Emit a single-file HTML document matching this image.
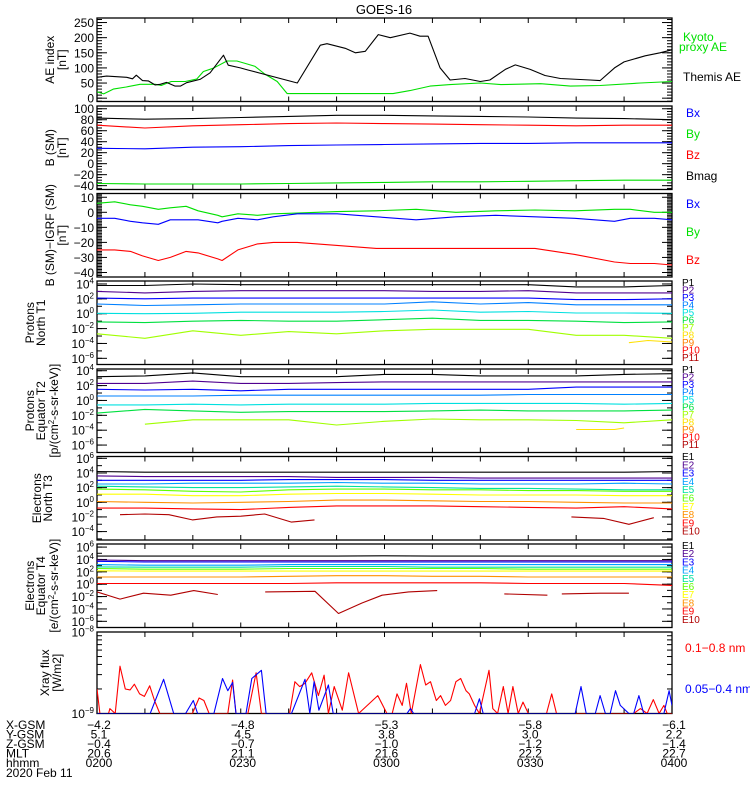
<!DOCTYPE html>
<html><head><meta charset="utf-8"><title>GOES-16</title>
<style>
html,body{margin:0;padding:0;background:#fff;}
svg{display:block;font-family:"Liberation Sans",sans-serif;}
text{font-size:12px;fill:#000;}
</style></head>
<body>
<svg id="chart" width="750" height="800" viewBox="0 0 750 800" xmlns="http://www.w3.org/2000/svg">
<rect x="0" y="0" width="750" height="800" fill="#fff"/>
<text x="384" y="14" text-anchor="middle" style="font-size:13px">GOES-16</text>
<g id="layer"></g>
</svg>
<script>
// ---------- DATA ----------
const T10=[0,10,20,30,40,50,60,70,80,90,100,110,120];
// Panel 1: AE index
const aeThemisT=[0,2,6.2,7.4,8.2,9.5,10.7,12.1,13.2,14.5,16.3,17.4,18.7,21.5,23.6,26.4,27.4,29.9,31.5,41.8,46.6,48,51.8,53.9,56,58.7,61.2,65.3,67.4,69.1,71.6,73.7,76.8,80,82,85.2,87.3,90.4,93.5,96.7,102.9,105,108,110,114.4,117.5,120];
const aeThemisV=[69,73,69,64,76,58,57,44,46,52,40,40,51,62,84,142,109,100,93,50,175,180,165,150,155,210,200,215,205,205,100,60,65,55,60,95,110,95,75,65,60,58,100,120,140,150,160];
const aeKyotoT=[0,1.4,3.4,6.1,9,12.2,13.4,15.5,18.4,20.8,22.2,24.3,27.1,29.2,30.9,33,35,37.6,39.7,61.8,65.3,69.5,73.7,80,84.3,92.6,98.8,105,113.4,120];
const aeKyotoV=[21,14,30,37,46,46,42,55,55,63,88,99,123,123,115,105,80,55,15,15,25,40,45,50,45,48,40,42,50,55];
// Panel 2: B (SM)
const bmagSM=[83,81,82,84,86,88,88,87,86,85,83,82,80];
const bzSM=[70,65,69,71,73,74,73,72,71,70,69,70,70];
const bxSM=[28,27,30,31,33,34,35,36,37,37,38,38,38];
const bySM=[-36,-37,-37,-37,-36,-35,-34,-33,-33,-32,-31,-30,-30];
// Panel 3: B - IGRF
const dT=[0,3.7,7,9.5,12.8,15.3,18.6,21.1,25.2,26.1,29.4,33.5,36.8,41.8,50.1,58.3,66.6,74.9,83.2,91.4,99.7,108,111.3,116.3,120];
const dBy=[6,7,5,4,2,3,4,1,-2,-3,-1,-2,-1,-0.5,0.5,1,2,0,1,1.5,1,2,2,0,0];
const dBx=[-4,-4,-6,-7,-8,-5,-5,-5,-7,-6,-4,-5,-3,-1,-1,-3,-5,-3,-2,-3,-4,-6,-4,-4,-5];
const dBz=[-25,-25,-26,-29,-32,-30,-26,-27,-31,-32,-25,-21,-20,-20,-22,-24,-24,-24,-24,-24,-28,-33,-34,-34,-35];
// Panel 4: Protons North T1 (log10 flux)
const p4P1=[3.8,3.8,4.0,3.9,3.9,3.9,3.9,3.9,3.9,3.9,3.6,3.6,3.8];
const p4P2=[3.0,2.8,3.0,3.1,3.1,3.1,3.1,3.0,3.0,3.1,2.8,2.8,2.8];
const p4P3=[2.1,2.0,2.1,2.1,2.1,2.1,2.1,2.1,2.1,2.1,1.9,1.9,2.0];
const p4P4=[1.3,1.1,1.2,1.3,1.3,1.3,1.3,1.6,1.3,1.5,1.2,1.2,1.2];
const p4P5=[0.05,0.0,0.05,0.2,0.2,0.2,0.3,0.5,0.2,0.3,0.1,0.1,0.05];
const p4P6=[-1.1,-1.2,-1.0,-0.9,-1.0,-1.0,-0.8,-0.6,-0.9,-0.9,-1.0,-1.2,-1.1];
const p4P7=[-2.7,-3.3,-2.3,-2.9,-2.4,-2.7,-2.3,-2.1,-2.1,-2.1,-2.9,-2.9,-3.3];
const p4P8T=[111,115,120];
const p4P8=[-3.9,-3.6,-3.8];
// Panel 5: Protons Equator T2
const p5P1=[3.2,3.3,3.7,3.2,3.2,3.2,3.5,3.5,3.3,3.3,3.3,3.5,3.6];
const p5P2=[2.3,2.3,2.6,2.3,2.3,2.4,2.5,2.5,2.5,2.5,2.5,2.5,2.5];
const p5P3=[1.5,1.4,1.5,1.3,1.5,1.5,1.5,1.5,1.5,1.5,1.8,1.8,1.8];
const p5P4=[0.6,0.6,0.6,0.7,0.7,0.7,0.7,0.7,0.7,0.8,0.8,0.8,0.8];
const p5P5=[-0.6,-0.6,-0.5,-0.6,-0.5,-0.5,-0.5,-0.4,-0.4,-0.4,-0.4,-0.5,-0.4];
const p5P6=[-1.7,-1.2,-1.4,-1.6,-1.5,-1.5,-1.5,-1.4,-1.3,-1.4,-1.4,-1.4,-1.3];
const p5P7=[null,-3.2,-2.6,-2.6,-2.6,-3.3,-2.8,-2.5,-2.6,-2.6,-2.7,-3.0,-2.6];
const p5P8T=[100,108,110];
const p5P8=[-3.9,-3.9,-3.7];
// Panel 6: Electrons North T3
const e6E1=[4.2,4.1,4.1,4.1,4.1,4.1,4.1,4.1,4.1,4.1,4.1,4.1,4.2];
const e6E2=[3.6,3.5,3.5,3.5,3.5,3.4,3.4,3.4,3.3,3.3,3.3,3.3,3.3];
const e6E3=[3.0,3.0,3.0,3.0,3.1,3.1,3.1,3.0,3.0,3.0,3.0,3.0,3.0];
const e6E4=[2.5,2.5,2.6,2.6,2.6,2.7,2.6,2.6,2.5,2.5,2.5,2.6,2.5];
const e6E5=[2.2,2.1,2.0,2.0,2.1,2.2,2.1,2.0,1.9,1.9,1.8,1.7,1.7];
const e6E6=[1.8,1.7,1.5,1.4,1.7,1.8,1.8,1.7,1.7,1.6,1.6,1.5,1.5];
const e6E7=[1.1,1.1,0.9,0.9,1.1,1.2,1.2,1.1,1.0,1.0,1.0,0.9,0.9];
const e6E8=[0.1,0.0,-0.1,0.0,0.1,0.3,0.3,0.2,0.1,0.1,0.0,-0.1,-0.1];
const e6E9=[-0.8,-0.8,-0.9,-1.0,-0.7,-0.5,-0.5,-0.5,-0.6,-0.7,-0.8,-0.6,-0.9];
const e6E10T=[4.8,10,15,19.9,25,30,35,40.6,45.4,null,99,105.7,111,116.2];
const e6E10=[-1.7,-1.6,-1.7,-2.4,-2.0,-1.9,-1.6,-2.7,-2.4,null,-2.0,-2.2,-3.0,-2.1];
// Panel 7: Electrons Equator T4
const e7E1=[4.54,4.54,4.54,4.54,4.54,4.54,4.6,4.54,4.54,4.54,4.54,4.54,4.54];
const e7E2=[3.91,3.8,3.8,3.8,3.8,3.8,3.8,3.8,3.8,3.8,3.8,3.8,3.8];
const e7E3=[3.7,3.59,3.59,3.59,3.59,3.59,3.59,3.59,3.59,3.59,3.59,3.59,3.59];
const e7E4=[3.17,3.07,3.07,3.07,3.17,3.17,3.17,3.17,3.17,3.17,3.17,3.17,3.17];
const e7E5=[2.8,2.75,2.75,2.75,2.86,2.86,2.86,2.75,2.75,2.75,2.75,2.75,2.75];
const e7E6=[2.54,2.43,2.43,2.43,2.54,2.54,2.54,2.54,2.54,2.43,2.43,2.43,2.43];
const e7E7=[2.17,2.12,2.12,2.12,2.12,2.12,2.12,2.12,2.12,2.12,2.12,2.12,2.12];
const e7E8=[1.17,1.17,1.17,1.17,1.27,1.38,1.38,1.27,1.27,1.17,1.17,1.17,1.17];
const e7E9=[0.12,0.12,0.12,0.12,0.12,0.23,0.23,0.23,0.23,0.12,0.12,0.12,-0.2];
const e7E10T=[0,4.8,9.7,15.4,20.2,25.2,null,35.1,45.5,50.4,55.3,59.5,65,71,null,85,94,null,97,105,111];
const e7E10=[-1.25,-2.41,-1.46,-1.78,-1.04,-1.67,null,-1.25,-1.15,-4.73,-3.04,-1.78,-1.25,-1.04,null,-1.57,-1.78,null,-1.57,-1.46,-1.46];
// Panel 8: X-ray flux (log10 W/m2)
const xLongT=[0,0.6,2.4,2.7,3.8,4.8,5.9,6.9,7.8,8.9,9.9,11,12,13.1,19.9,21.3,22.3,23.4,27.3,28.3,29,31.5,33.2,34.3,40.2,41.3,42.3,43.4,44.8,46.2,47.4,48.3,49.5,51.2,52.5,54.6,58.6,60.5,61.6,62.6,63.7,64.6,65.6,67.5,68.6,69.6,70.8,71.7,72.7,73.8,74.9,75.9,77,77.7,78.8,79.8,81.8,82.6,83.6,84.8,85.8,86.8,87.9,88.9,90,93.8,94.9,95.9,112,113.4,114.8,116.1,117.3,118.3,119,120];
const xLongV=[-8.7,-9,-9,-8.94,-9,-8.42,-8.7,-8.71,-8.64,-8.76,-8.79,-8.66,-8.84,-9,-9,-8.81,-8.84,-9,-9,-8.59,-9,-9,-8.5,-9,-9,-8.61,-8.67,-8.63,-8.5,-8.78,-8.53,-9,-8.67,-8.96,-8.5,-9,-8.78,-9,-9,-8.76,-8.9,-8.63,-9,-8.4,-8.65,-8.61,-8.84,-8.78,-8.9,-8.84,-8.61,-8.57,-8.72,-8.76,-8.9,-9,-8.47,-8.94,-9,-8.67,-9,-8.67,-9,-8.86,-9,-9,-8.76,-9,-9,-8.94,-9,-8.83,-9,-8.9,-9,-9];
const xShortT=[0,11.1,13.9,16,18.5,20.1,21,24.4,26.2,27.3,28.3,29,31.1,32.3,34.3,35.3,40.6,43.4,44.4,45.3,46.3,48.3,49.3,64.7,65.4,66.1,78.8,79.8,80.6,99.8,101,102.1,104,105,106.1,107.1,108.2,109.2,111,112,113.1,114.1,118.3,119.4,120];
const xShortV=[-9,-9,-8.58,-9,-9,-8.84,-9,-9,-8.57,-8.72,-8.62,-9,-9,-8.57,-8.47,-9,-9,-8.58,-9,-8.61,-8.96,-8.65,-9,-9,-8.94,-9,-9,-8.82,-9,-9,-8.67,-9,-9,-8.78,-9,-9,-8.72,-8.9,-9,-9,-8.78,-9,-9,-8.72,-8.9];
// Bottom ephemeris table
const ephemTimes=[0,30,60,90,120];
const ephemX=["−4.2","−4.8","−5.3","−5.8","−6.1"];
const ephemY=["5.1","4.5","3.8","3.0","2.2"];
const ephemZ=["−0.4","−0.7","−1.0","−1.2","−1.4"];
const ephemMLT=["20.6","21.1","21.6","22.2","22.7"];
const ephemHHMM=["0200","0230","0300","0330","0400"];

// ---------- LAYOUT ----------
const NS="http://www.w3.org/2000/svg";
const layer=document.getElementById('layer');
const X0=97, X1=672, TMAX=120;
const xs=t=>X0+t*(X1-X0)/TMAX;
const PH=83.5;
const panels=[
 {top:18,lo:-11,hi:265},
 {top:106,lo:-47,hi:105},
 {top:193.5,lo:-43,hi:12.5},
 {top:281,lo:-6.83,hi:4.4},
 {top:369,lo:-7.0,hi:4.23},
 {top:456.5,lo:-5.15,hi:6.25},
 {top:544,lo:-7.0,hi:6.5},
 {top:632,lo:-9,hi:-8,h:81.5}
];
function ys(p,v){const P=panels[p];const h=P.h||PH;return P.top+h-(v-P.lo)/(P.hi-P.lo)*h;}
function mk(tag,attrs,parent){const e=document.createElementNS(NS,tag);for(const k in attrs)e.setAttribute(k,attrs[k]);(parent||layer).appendChild(e);return e;}

function drawSeries(p,times,vals,color,name){
  let segs=[],cur=[];
  const n=Math.min(times.length,vals.length);
  for(let i=0;i<n;i++){
    if(vals[i]===null||times[i]===null){if(cur.length)segs.push(cur);cur=[];continue;}
    cur.push(xs(times[i]).toFixed(1)+','+ys(p,vals[i]).toFixed(1));
  }
  if(cur.length)segs.push(cur);
  segs.forEach(s=>{
    const el=mk('polyline',{points:s.join(' '),fill:'none',stroke:color,'stroke-width':1.1,'stroke-linejoin':'round','clip-path':'url(#clip'+p+')'});
    
    
  });
}

const defs=mk('defs',{});
panels.forEach((P,i)=>{
  const h=P.h||PH;
  const cp=mk('clipPath',{id:'clip'+i},defs);
  mk('rect',{x:X0,y:P.top,width:X1-X0,height:h},cp);
});

function yAxis(p,majors,minors,labelFn,isLog){
  const P=panels[p];const h=P.h||PH;
  const g=mk('g',{});
  
  
  minors.forEach(v=>{const y=ys(p,v);if(y<P.top-0.1||y>P.top+h+0.1)return;
    mk('line',{x1:X0,x2:X0+5,y1:y,y2:y,stroke:'#000','stroke-width':1},g);
    mk('line',{x1:X1-5,x2:X1,y1:y,y2:y,stroke:'#000','stroke-width':1},g);});
  majors.forEach(v=>{const y=ys(p,v);if(y<P.top-0.5||y>P.top+h+0.5)return;
    mk('line',{x1:X0,x2:X0+10,y1:y,y2:y,stroke:'#000','stroke-width':1},g);
    mk('line',{x1:X1-10,x2:X1,y1:y,y2:y,stroke:'#000','stroke-width':1},g);
    const t=mk('text',{x:X0-3,y:y+4.5,'text-anchor':'end'},g);
    
    
    if(isLog){t.textContent='10';const s=mk('tspan',{dy:-5,style:'font-size:8px'},t);s.textContent=labelFn(v);}
    else t.textContent=labelFn(v);
  });
}
const rng=(a,b,s)=>{const r=[];for(let v=a;v<=b+1e-9;v+=s)r.push(+v.toFixed(6));return r;};
const fmt=v=>(v<0?'−'+(-v):''+v);
yAxis(0,rng(0,250,50),rng(-10,260,10),fmt,false);
yAxis(1,rng(-40,100,20),rng(-45,105,5),fmt,false);
yAxis(2,rng(-40,10,10),rng(-43,12,1),fmt,false);
yAxis(3,[4,2,0,-2,-4,-6],rng(-6,4,1),fmt,true);
yAxis(4,[4,2,0,-2,-4,-6],rng(-7,4,1),fmt,true);
yAxis(5,[6,4,2,0,-2,-4],rng(-5,6,1),fmt,true);
yAxis(6,[6,4,2,0,-2,-4,-6],rng(-7,6,1),fmt,true);
yAxis(7,[-8,-9],[2,3,4,5,6,7,8,9].map(k=>-9+Math.log10(k)),fmt,true);

// frames + x ticks
panels.forEach((P,i)=>{
  const h=P.h||PH;
  const f=mk('rect',{x:X0,y:P.top,width:X1-X0,height:h,fill:'none',stroke:'#000','stroke-width':1.3});
  
  
  for(let t=0;t<=120;t+=10){const x=xs(t);
    mk('line',{x1:x,x2:x,y1:P.top,y2:P.top+5,stroke:'#000','stroke-width':1});
    mk('line',{x1:x,x2:x,y1:P.top+h-5,y2:P.top+h,stroke:'#000','stroke-width':1});}
});

// ---------- SERIES ----------
drawSeries(0,aeKyotoT,aeKyotoV,'#00e000','kyoto-proxy-ae-line');
drawSeries(0,aeThemisT,aeThemisV,'#000','themis-ae-line');
drawSeries(1,T10,bmagSM,'#000','bmag-line');
drawSeries(1,T10,bzSM,'#ff0000','bz-line');
drawSeries(1,T10,bxSM,'#0000ff','bx-line');
drawSeries(1,T10,bySM,'#00e000','by-line');
drawSeries(2,dT,dBy,'#00e000','dby-line');
drawSeries(2,dT,dBx,'#0000ff','dbx-line');
drawSeries(2,dT,dBz,'#ff0000','dbz-line');
const PC=['#000','#500090','#0000ff','#0080ff','#00e0e0','#00e040','#a0ff00','#ffe000','#ff8000','#ff0000','#b00000'];
const EC=['#000','#500090','#0000ff','#00a0ff','#00e0a0','#60ff00','#ffff00','#ff9000','#ff0000','#b00000'];
[p4P1,p4P2,p4P3,p4P4,p4P5,p4P6,p4P7].forEach((s,i)=>drawSeries(3,T10,s,PC[i],'proton-t1-p'+(i+1)));
drawSeries(3,p4P8T,p4P8,PC[7],'proton-t1-p8');
[p5P1,p5P2,p5P3,p5P4,p5P5,p5P6,p5P7].forEach((s,i)=>drawSeries(4,T10,s,PC[i],'proton-t2-p'+(i+1)));
drawSeries(4,p5P8T,p5P8,PC[7],'proton-t2-p8');
[e6E1,e6E2,e6E3,e6E4,e6E5,e6E6,e6E7,e6E8,e6E9].forEach((s,i)=>drawSeries(5,T10,s,EC[i],'electron-t3-e'+(i+1)));
drawSeries(5,e6E10T,e6E10,EC[9],'electron-t3-e10');
[e7E1,e7E2,e7E3,e7E4,e7E5,e7E6,e7E7,e7E8,e7E9].forEach((s,i)=>drawSeries(6,T10,s,EC[i],'electron-t4-e'+(i+1)));
drawSeries(6,e7E10T,e7E10,EC[9],'electron-t4-e10');
drawSeries(7,xLongT,xLongV,'#ff0000','xray-long-line');
drawSeries(7,xShortT,xShortV,'#0000ff','xray-short-line');

// ---------- LEGENDS ----------
function txt(x,y,s,color,name,size,anchor){
  const t=mk('text',{x:x,y:y,fill:color||'#000',style:'font-size:'+(size||12)+'px'+';fill:'+(color||'#000'),'text-anchor':anchor||'start'});
  t.textContent=s;
  
  
  return t;
}
txt(683,41,'Kyoto','#00e000','legend-kyoto');
txt(679,51,'proxy AE','#00e000','legend-proxy-ae');
txt(683,81,'Themis AE','#000','legend-themis-ae');
txt(686,117,'Bx','#0000ff','legend-bx');
txt(686,138,'By','#00e000','legend-by');
txt(686,159,'Bz','#ff0000','legend-bz');
txt(686,180,'Bmag','#000','legend-bmag');
txt(686,208,'Bx','#0000ff','legend-dbx');
txt(686,236,'By','#00e000','legend-dby');
txt(686,264,'Bz','#ff0000','legend-dbz');
for(let i=0;i<11;i++){
  txt(682,286+i*7.5,'P'+(i+1),PC[i],'legend-t1-p'+(i+1),10);
  txt(682,373+i*7.5,'P'+(i+1),PC[i],'legend-t2-p'+(i+1),10);
}
for(let i=0;i<10;i++){
  txt(682,460+i*8.3,'E'+(i+1),EC[i],'legend-t3-e'+(i+1),10);
  txt(682,549+i*8.2,'E'+(i+1),EC[i],'legend-t4-e'+(i+1),10);
}
txt(685,652,'0.1−0.8 nm','#ff0000','legend-xray-long');
txt(685,693,'0.05−0.4 nm','#0000ff','legend-xray-short');

// ---------- Y TITLES ----------
function ytitle(lines,xsList,p,name){
  const P=panels[p];const h=P.h||PH;const cy=P.top+h/2;
  lines.forEach((s,i)=>{
    const t=mk('text',{x:0,y:0,'text-anchor':'middle',transform:'translate('+(xsList[i]+4)+','+cy+') rotate(-90)'});
    t.innerHTML=s;
    
    
  });
}
ytitle(['AE index','[nT]'],[50,62],0,'y-title-ae');
ytitle(['B (SM)','[nT]'],[50,62],1,'y-title-bsm');
ytitle(['B (SM)−IGRF (SM)','[nT]'],[50,62],2,'y-title-bigrf');
ytitle(['Protons','North T1'],[30,41],3,'y-title-protons-t1');
ytitle(['Protons','Equator T2','[p/(cm<tspan dy="-4" style="font-size:8px">2</tspan><tspan dy="4">-s-sr-keV)]</tspan>'],[30,41,54],4,'y-title-protons-t2');
ytitle(['Electrons','North T3'],[37,48],5,'y-title-electrons-t3');
ytitle(['Electrons','Equator T4','[e/(cm<tspan dy="-4" style="font-size:8px">2</tspan><tspan dy="4">-s-sr-keV)]</tspan>'],[30,41,54],6,'y-title-electrons-t4');
ytitle(['Xray flux','[W/m2]'],[45,57],7,'y-title-xray');

// ---------- EPHEMERIS TABLE ----------
const rows=[['X-GSM',ephemX],['Y-GSM',ephemY],['Z-GSM',ephemZ],['MLT',ephemMLT],['hhmm',ephemHHMM]];
rows.forEach((r,i)=>{
  const y=729+i*9.5;
  txt(6,y,r[0],'#000','row-label-'+r[0].toLowerCase());
  ephemTimes.forEach((t,j)=>txt(xs(t)+2,y,r[1][j],'#000','row-'+r[0].toLowerCase()+'-value','12','middle'));
});
txt(6,777,'2020 Feb 11','#000','date-label');
</script>
</body></html>
